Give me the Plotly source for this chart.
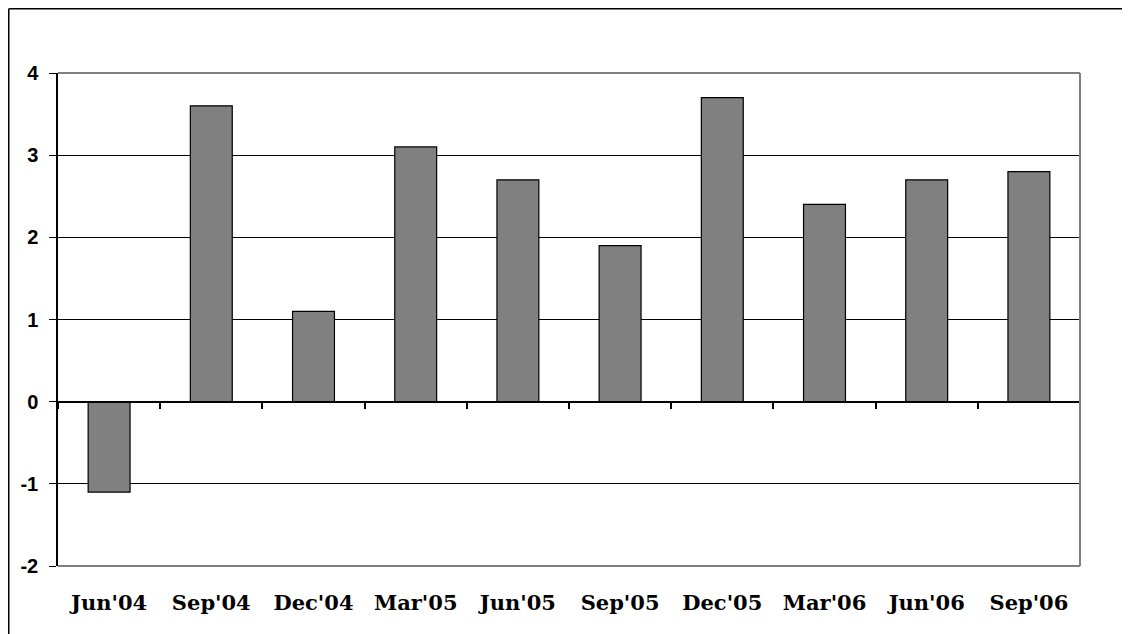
import plotly.graph_objects as go

categories = ["Jun'04", "Sep'04", "Dec'04", "Mar'05", "Jun'05",
              "Sep'05", "Dec'05", "Mar'06", "Jun'06", "Sep'06"]
values = [-1.1, 3.6, 1.1, 3.1, 2.7, 1.9, 3.7, 2.4, 2.7, 2.8]
y_ticks = [-2, -1, 0, 1, 2, 3, 4]
y_ticktext = [str(v) for v in y_ticks]

L, R, T, B = 50, 58, 65, 76
W, H = 1130, 634
PW, PH = W - L - R, H - T - B


def px_x(x):
    return (x - L) / PW


def px_y(y):
    return (H - B - y) / PH


fig = go.Figure()
fig.add_trace(go.Bar(
    x=categories, y=values,
    marker=dict(color="#808080", line=dict(color="black", width=1.2)),
    xaxis="x", yaxis="y", showlegend=False, hoverinfo="x+y",
))
# invisible trace to drive the zero-positioned category axis with boundary ticks
fig.add_trace(go.Scatter(
    x=categories, y=[None] * len(categories), xaxis="x2", yaxis="y",
    mode="markers", showlegend=False, hoverinfo="skip",
))

fig.update_layout(
    width=W, height=H,
    margin=dict(l=L, r=R, t=T, b=B),
    paper_bgcolor="white", plot_bgcolor="white",
    bargap=0.59,
    xaxis=dict(
        type="category", categoryarray=categories, range=[-0.5, 9.5],
        showline=False, showgrid=False, zeroline=False, ticks="",
        tickfont=dict(family="DejaVu Serif", size=21, color="black", weight="bold"),
        ticklabelstandoff=22,
    ),
    xaxis2=dict(
        type="category", categoryarray=categories, range=[-0.5, 9.5],
        overlaying="x", anchor="free", position=1/3, side="bottom",
        showline=True, linecolor="black", linewidth=1.5,
        ticks="outside", tickson="boundaries", ticklen=7, tickcolor="black", tickwidth=1.5,
        showticklabels=False, showgrid=False, zeroline=False,
    ),
    yaxis=dict(
        range=[-2, 4], tickvals=y_ticks, ticktext=y_ticktext,
        showline=True, linecolor="black", linewidth=1.5,
        ticks="outside", ticklen=7, tickcolor="black", tickwidth=1,
        showgrid=True, gridcolor="black", gridwidth=1,
        zeroline=True, zerolinecolor="black", zerolinewidth=1.5,
        tickfont=dict(family="Liberation Sans", size=20, color="black", weight="bold"),
        ticklabelstandoff=7,
    ),
    shapes=[
        dict(type="line", xref="paper", yref="paper", x0=0, x1=1, y0=1, y1=1,
             line=dict(color="#808080", width=2), layer="above"),
        dict(type="line", xref="paper", yref="paper", x0=0, x1=1, y0=0, y1=0,
             line=dict(color="#808080", width=2), layer="above"),
        dict(type="line", xref="paper", yref="paper", x0=1, x1=1, y0=0, y1=1,
             line=dict(color="#808080", width=2), layer="above"),
        # outer chart border (left and top edges visible)
        dict(type="line", xref="paper", yref="paper",
             x0=px_x(0.75), x1=px_x(W), y0=px_y(0.75), y1=px_y(0.75),
             line=dict(color="black", width=1.5)),
        dict(type="line", xref="paper", yref="paper",
             x0=px_x(0.75), x1=px_x(0.75), y0=px_y(0.75), y1=px_y(H + 5),
             line=dict(color="black", width=1.5)),
    ],
)

fig.write_html("out.html")
